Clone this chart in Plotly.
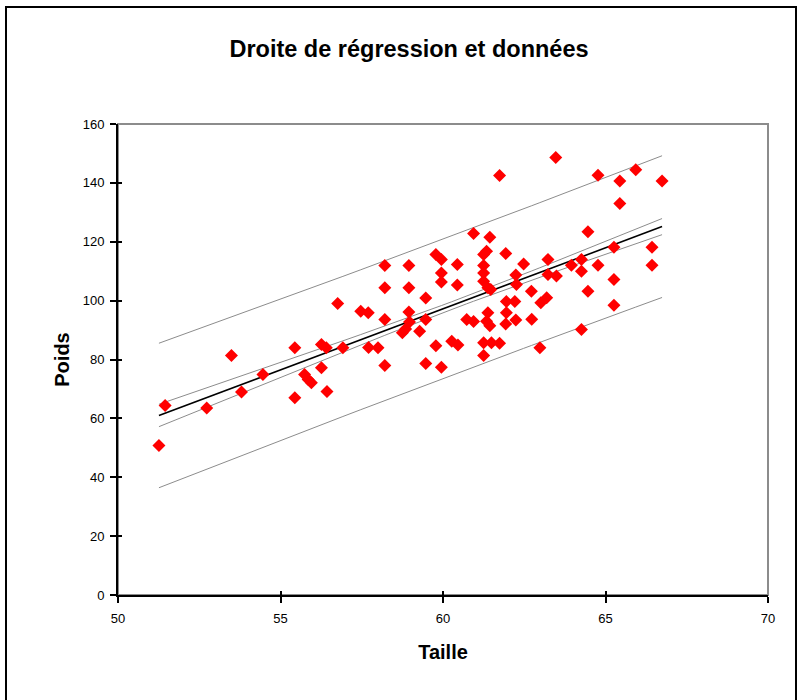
import numpy as np
import plotly.graph_objects as go

# Data
taille = [51.26, 51.45, 52.73, 53.49, 53.80, 54.46, 55.44, 55.44, 55.74, 55.85,
          55.95, 56.26, 56.41, 56.26, 56.43, 56.92, 56.76, 57.47, 57.70, 57.71,
          58.00, 58.21, 58.95, 58.21, 58.95, 58.21, 58.95, 58.97, 58.85, 58.75,
          59.28, 58.21, 59.47, 59.47, 59.47, 59.78, 59.95, 59.95, 59.95, 60.44,
          60.44, 59.78, 60.27, 60.46, 59.95, 60.73, 60.94, 60.94, 61.44, 61.34,
          61.25, 61.93, 61.74, 63.47, 61.25, 61.25, 61.25, 61.38, 61.47, 61.38,
          61.34, 61.44, 61.25, 61.49, 61.74, 61.25, 61.95, 61.93, 62.24, 61.95,
          62.21, 62.48, 62.24, 62.26, 62.72, 62.73, 62.98, 63.23, 63.23, 63.49,
          63.19, 63.01, 63.95, 64.26, 64.26, 64.26, 64.46, 64.46, 64.77, 64.77,
          65.26, 65.26, 65.26, 65.44, 65.44, 65.93, 66.43, 66.43, 66.74]
poids = [50.8, 64.4, 63.5, 81.4, 69.0, 74.9, 84.0, 67.0, 74.9, 73.2,
         72.1, 85.1, 84.0, 77.2, 69.1, 84.0, 99.0, 96.4, 95.9, 84.1,
         84.0, 111.9, 111.9, 104.4, 104.4, 93.6, 96.1, 92.7, 90.4, 89.1,
         89.6, 78.0, 100.9, 93.6, 78.6, 115.7, 114.0, 109.4, 106.3, 112.3,
         105.3, 84.7, 86.2, 84.9, 77.4, 93.6, 92.9, 122.8, 121.5, 116.8,
         115.7, 116.0, 142.5, 148.6, 111.9, 109.4, 106.6, 104.4, 103.8, 95.9,
         93.0, 91.5, 85.7, 85.7, 85.5, 81.4, 95.9, 92.1, 93.4, 99.7,
         99.7, 112.4, 108.7, 105.5, 103.2, 93.7, 84.0, 114.0, 108.9, 108.4,
         101.0, 99.3, 112.0, 114.0, 110.0, 90.2, 123.4, 103.2, 142.6, 112.0,
         118.1, 107.2, 98.4, 140.6, 133.0, 144.5, 118.1, 112.0, 140.6]

x_ticks = [50, 55, 60, 65, 70]
y_ticks = [0, 20, 40, 60, 80, 100, 120, 140, 160]

CONF_K = 1.0   # band multipliers of standard errors
PRED_K = 1.82

x = np.array(taille)
y = np.array(poids)
n = len(x)
slope, intercept = np.polyfit(x, y, 1)
resid = y - (intercept + slope * x)
s = np.sqrt(np.sum(resid ** 2) / (n - 2))
xbar = x.mean()
sxx = np.sum((x - xbar) ** 2)
xs = np.sort(x)
fit = intercept + slope * xs
se_m = s * np.sqrt(1.0 / n + (xs - xbar) ** 2 / sxx)
se_p = s * np.sqrt(1.0 + 1.0 / n + (xs - xbar) ** 2 / sxx)

FONT = "Liberation Sans, Arial, sans-serif"
GRAY = "#8c8c8c"

fig = go.Figure()
for yy in [fit + PRED_K * se_p, fit - PRED_K * se_p, fit + CONF_K * se_m, fit - CONF_K * se_m]:
    fig.add_trace(go.Scatter(x=xs, y=yy, mode="lines", line=dict(color=GRAY, width=1),
                             hoverinfo="skip", showlegend=False))
fig.add_trace(go.Scatter(x=xs, y=fit, mode="lines", line=dict(color="black", width=1.6),
                         showlegend=False))
fig.add_trace(go.Scatter(x=taille, y=poids, mode="markers",
                         marker=dict(symbol="diamond", size=10, color="#ff0000", line=dict(width=0)),
                         showlegend=False))
# invisible trace for inside ticks (cross ticks)
fig.add_trace(go.Scatter(x=[50], y=[0], xaxis="x2", yaxis="y2", mode="markers",
                         marker=dict(opacity=0), hoverinfo="skip", showlegend=False))

fig.update_layout(
    width=800, height=700,
    margin=dict(l=118, r=32, t=124, b=105),
    paper_bgcolor="white", plot_bgcolor="white",
    font=dict(family=FONT, color="black", size=13),
    title=dict(text="<b>Droite de régression et données</b>", x=409 / 800, xanchor="center",
               y=1 - 49 / 700, yanchor="middle", font=dict(size=23.5, family=FONT)),
    xaxis=dict(range=[50, 70], tickvals=x_ticks, showgrid=False, zeroline=False,
               showline=True, linecolor="black", linewidth=2, ticks="outside", ticklen=6,
               tickwidth=2, tickcolor="black", tickfont=dict(size=13), ticklabelstandoff=4,
               title=dict(text="<b>Taille</b>", font=dict(size=20), standoff=20)),
    yaxis=dict(range=[0, 160], tickvals=y_ticks, showgrid=False, zeroline=False,
               showline=True, linecolor="black", linewidth=2, ticks="outside", ticklen=6,
               tickwidth=2, tickcolor="black", tickfont=dict(size=13), ticklabelstandoff=3,
               title=dict(text="<b>Poids</b>", font=dict(size=20), standoff=8)),
    xaxis2=dict(range=[50, 70], tickvals=x_ticks, overlaying="x", showticklabels=False,
                showgrid=False, zeroline=False, ticks="inside", ticklen=4, tickwidth=2,
                tickcolor="black", side="bottom"),
    yaxis2=dict(range=[0, 160], tickvals=y_ticks, overlaying="y", showticklabels=False,
                showgrid=False, zeroline=False, ticks="inside", ticklen=4, tickwidth=2,
                tickcolor="black", side="left"),
    shapes=[
        dict(type="rect", xref="paper", yref="paper", x0=0, y0=0, x1=1, y1=1,
             line=dict(color=GRAY, width=2), layer="below"),
        dict(type="rect", xref="paper", yref="paper",
             x0=(6 - 118) / 650, x1=(796 - 118) / 650,
             y0=-(704 - 595) / 471, y1=(595 - 7) / 471,
             line=dict(color="black", width=2), layer="below"),
    ],
)

fig.write_html("out.html", config={"displayModeBar": False},
               post_script="document.body.style.margin='0px';")
